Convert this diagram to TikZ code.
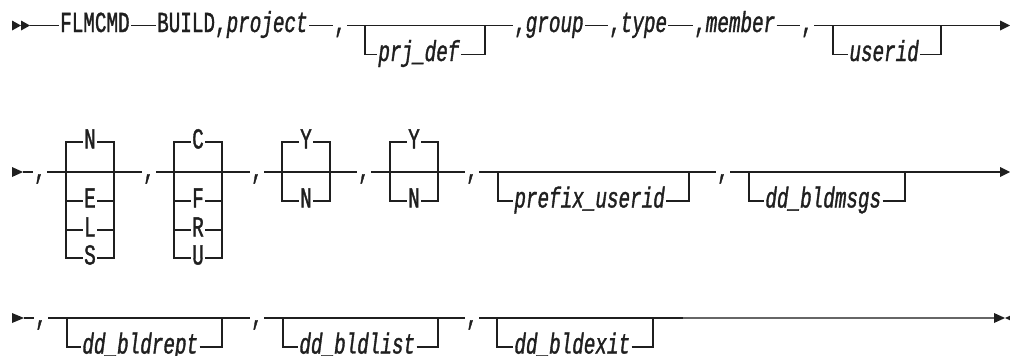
\documentclass[tikz,border=0pt]{standalone}
\usepackage{fontspec}
\newfontfamily\rrfont[FakeStretch=0.665,FakeBold=1.2]{Liberation Mono}
\begin{document}
\begin{tikzpicture}[x=1pt,y=-1pt,
  rail/.style={line width=1.6pt, draw=black!88},
  lbl/.style={inner xsep=1.2pt, inner ysep=0pt, text height=13pt, text depth=0pt,
              font=\rrfont\fontsize{29}{29}\selectfont, text=black!88},
  wl/.style={lbl, anchor=west},
  var/.style={wl, font=\rrfont\fontsize{29}{29}\selectfont\itshape},
  ch/.style={lbl, anchor=center},
  tip/.style={fill=black!88}]
\useasboundingbox (0,0) rectangle (1010,356);

% ---------------- Row 1 ----------------
\fill[tip] (12,20.5) -- (21,25.5) -- (12,30.5) -- cycle;
\fill[tip] (21,20.5) -- (30,25.5) -- (21,30.5) -- cycle;
\coordinate (s1) at (30,25.5);
\node[wl] (flm) at (58.8,25.5) {FLMCMD};
\node[wl] (bld) at (155.8,25.5) {BUILD,\textit{project}};
\node[ch] (c11) at (340,25.5) {,};
\coordinate (b1L) at (365,25.5); \coordinate (b1R) at (485,25.5);
\node[var] (prj) at (377,54.5) {prj\_def};
\node[wl] (grp) at (512.8,25.5) {,\textit{group}};
\node[wl] (typ) at (607.8,25.5) {,\textit{type}};
\node[wl] (mem) at (692.8,25.5) {,\textit{member}};
\node[ch] (c12) at (807,25.5) {,};
\coordinate (b2L) at (833,25.5); \coordinate (b2R) at (941,25.5);
\node[var] (usr) at (848,54.5) {userid};
\coordinate (e1) at (1001,25.5);
\fill[tip] (1000,20.5) -- (1010,25.5) -- (1000,30.5) -- cycle;

\draw[rail] (s1) -- (flm.west);
\draw[rail] (flm.east) -- (bld.west);
\draw[rail] (bld.east) -- (c11.west);
\draw[rail] (c11.east) -- (grp.west);
\draw[rail] (grp.east) -- (typ.west);
\draw[rail] (typ.east) -- (mem.west);
\draw[rail] (mem.east) -- (c12.west);
\draw[rail] (c12.east) -- (e1);
\draw[rail] (b1L) |- (prj.west);
\draw[rail] (prj.east) -| (b1R);
\draw[rail] (b2L) |- (usr.west);
\draw[rail] (usr.east) -| (b2R);

% ---------------- Row 2 ----------------
\fill[tip] (12,167) -- (23,172) -- (12,177) -- cycle;
\coordinate (s2) at (23,172);
\node[ch] (c21) at (40,172) {,};
\coordinate (q1L) at (66,172); \coordinate (q1R) at (114,172);
\node[ch] (oN) at (90,142) {N};
\node[ch] (oE) at (90,201) {E};
\node[ch] (oL) at (90,230) {L};
\node[ch] (oS) at (90,258) {S};
\node[ch] (c22) at (149,172) {,};
\coordinate (q2L) at (174,172); \coordinate (q2R) at (222,172);
\node[ch] (oC) at (198,142) {C};
\node[ch] (oF) at (198,201) {F};
\node[ch] (oR) at (198,230) {R};
\node[ch] (oU) at (198,258) {U};
\node[ch] (c23) at (257,172) {,};
\coordinate (q3L) at (282,172); \coordinate (q3R) at (330,172);
\node[ch] (oY1) at (306,142) {Y};
\node[ch] (oN1) at (306,201) {N};
\node[ch] (c24) at (364,172) {,};
\coordinate (q4L) at (390,172); \coordinate (q4R) at (438,172);
\node[ch] (oY2) at (414,142) {Y};
\node[ch] (oN2) at (414,201) {N};
\node[ch] (c25) at (472,172) {,};
\coordinate (q5L) at (498,172); \coordinate (q5R) at (689,172);
\node[var] (pfx) at (513,201) {prefix\_userid};
\node[ch] (c26) at (723,172) {,};
\coordinate (q6L) at (749,172); \coordinate (q6R) at (905,172);
\node[var] (msg) at (764,201) {dd\_bldmsgs};
\coordinate (e2) at (1001,172);
\fill[tip] (1000,167) -- (1010,172) -- (1000,177) -- cycle;

\draw[rail] (s2) -- (c21.west);
\draw[rail] (c21.east) -- (c22.west);
\draw[rail] (c22.east) -- (c23.west);
\draw[rail] (c23.east) -- (c24.west);
\draw[rail] (c24.east) -- (c25.west);
\draw[rail] (c25.east) -- (c26.west);
\draw[rail] (c26.east) -- (e2);
% box 1
\draw[rail] (oN.west) -| (q1L) |- (oS.west);
\draw[rail] (oN.east) -| (q1R) |- (oS.east);
\draw[rail] (q1L |- oE) -- (oE.west);  \draw[rail] (oE.east) -- (q1R |- oE);
\draw[rail] (q1L |- oL) -- (oL.west);  \draw[rail] (oL.east) -- (q1R |- oL);
% box 2
\draw[rail] (oC.west) -| (q2L) |- (oU.west);
\draw[rail] (oC.east) -| (q2R) |- (oU.east);
\draw[rail] (q2L |- oF) -- (oF.west);  \draw[rail] (oF.east) -- (q2R |- oF);
\draw[rail] (q2L |- oR) -- (oR.west);  \draw[rail] (oR.east) -- (q2R |- oR);
% box 3, 4
\draw[rail] (oY1.west) -| (q3L) |- (oN1.west);
\draw[rail] (oY1.east) -| (q3R) |- (oN1.east);
\draw[rail] (oY2.west) -| (q4L) |- (oN2.west);
\draw[rail] (oY2.east) -| (q4R) |- (oN2.east);
% box 5, 6
\draw[rail] (q5L) |- (pfx.west);
\draw[rail] (pfx.east) -| (q5R);
\draw[rail] (q6L) |- (msg.west);
\draw[rail] (msg.east) -| (q6R);

% ---------------- Row 3 ----------------
\fill[tip] (12,313) -- (24,318) -- (12,323) -- cycle;
\coordinate (s3) at (24,318);
\node[ch] (c31) at (41,318) {,};
\coordinate (r1L) at (67,318); \coordinate (r1R) at (222,318);
\node[var] (rpt) at (81,347) {dd\_bldrept};
\node[ch] (c32) at (257,318) {,};
\coordinate (r2L) at (283,318); \coordinate (r2R) at (438,318);
\node[var] (lst) at (298,347) {dd\_bldlist};
\node[ch] (c33) at (472,318) {,};
\coordinate (r3L) at (497,318); \coordinate (r3R) at (653,318);
\node[var] (ext) at (513,347) {dd\_bldexit};
\coordinate (k3) at (683,318);
\coordinate (e3) at (994,318);
\fill[tip] (994,313) -- (1005,318) -- (994,323) -- cycle;
\fill[tip] (1005,318) -- (1016,313) -- (1016,323) -- cycle;

\draw[rail] (s3) -- (c31.west);
\draw[rail] (c31.east) -- (c32.west);
\draw[rail] (c32.east) -- (c33.west);
\draw[rail] (c33.east) -- (k3);
\draw[rail, draw=black!60] (k3) -- (e3);
\draw[rail] (r1L) |- (rpt.west);
\draw[rail] (rpt.east) -| (r1R);
\draw[rail] (r2L) |- (lst.west);
\draw[rail] (lst.east) -| (r2R);
\draw[rail] (r3L) |- (ext.west);
\draw[rail] (ext.east) -| (r3R);
\end{tikzpicture}
\end{document}
